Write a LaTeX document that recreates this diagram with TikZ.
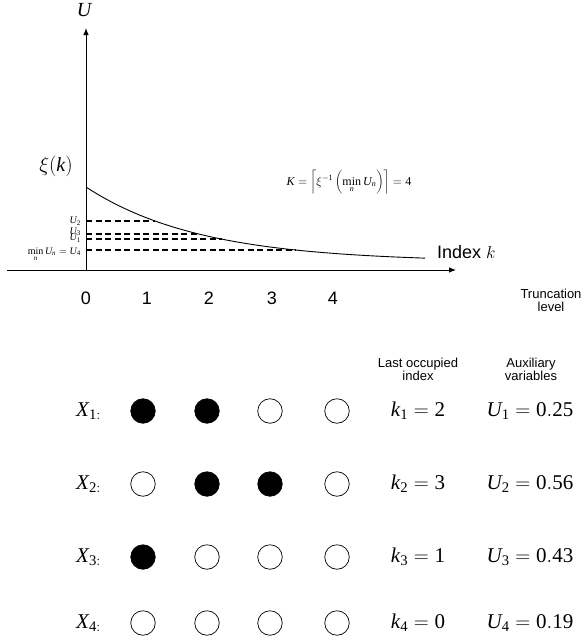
\documentclass[tikz,border=0pt]{standalone}
\usepackage{fontspec}
\setmainfont{Liberation Serif}
\setsansfont{Liberation Sans}
\usetikzlibrary{arrows.meta}
\newcommand{\fsz}[1]{\fontsize{#1}{#1}\selectfont}
\newcommand{\mi}[1]{\mathit{#1}}
\newcommand{\mr}[1]{\mathrm{#1}}
\begin{document}
\begin{tikzpicture}[x=1pt,y=-1pt,
  axisline/.style={line width=0.9pt,-{Latex[length=7pt,width=5.5pt]}},
  ulevel/.style={line width=1.5pt,dash pattern=on 6pt off 3.5pt},
  opendot/.style={circle,draw,line width=0.7pt,minimum size=24.5pt,inner sep=0pt},
  fulldot/.style={opendot,fill=black},
  ticklab/.style={font=\sffamily\fsz{18}},
  smalllab/.style={font=\fsz{10},inner sep=0pt},
  headlab/.style={font=\sffamily\fsz{13},align=center,inner sep=0pt},
  rowlab/.style={font=\fsz{21},inner sep=0pt}]
\useasboundingbox (0,0) rectangle (588,640);
% axes
\coordinate (o) at (86,270);
\coordinate (ytip) at (86,28);
\coordinate (xs) at (7,270);
\coordinate (xtip) at (456,270);
\draw[axisline] (o) -- (ytip);
\draw[axisline] (xs) -- (xtip);
\node[font=\fsz{20},inner sep=0pt] (ulab) at (84,10) {$\mi{U}$};
\node[font=\fsz{20},inner sep=0pt] (xilab) at (56,166) {$\xi(\mi{k})$};
% curve
\draw[line width=0.9pt] plot[domain=0:339,samples=90,smooth] ({86+\x},{262-75*exp(-0.00874*\x)});
% dashed levels
\coordinate (u2a) at (86,221); \coordinate (u2b) at (155,221);
\coordinate (u3a) at (86,234); \coordinate (u3b) at (200,234);
\coordinate (u1a) at (86,239); \coordinate (u1b) at (222,239);
\coordinate (u4a) at (86,250); \coordinate (u4b) at (296,250);
\draw[ulevel] (u2a) -- (u2b);
\draw[ulevel] (u3a) -- (u3b);
\draw[ulevel] (u1a) -- (u1b);
\draw[ulevel] (u4a) -- (u4b);
\node[smalllab,anchor=east] (l2) at (81,221) {$\mi{U}_{\mr{2}}$};
\node[smalllab,anchor=east] (l3) at (81,232) {$\mi{U}_{\mr{3}}$};
\node[smalllab,anchor=east] (l1) at (81,238) {$\mi{U}_{\mr{1}}$};
\node[smalllab,anchor=base east] (l4) at (81,254) {$\min\limits_{\mi{n}} \mi{U}_{\mi{n}} = \mi{U}_{\mr{4}}$};
% formula
\node[font=\fsz{12},inner sep=0pt] (kform) at (349,182) {$\mi{K}=\left\lceil \xi^{-\mr{1}}\left(\min\limits_{\mi{n}} \mi{U}_{\mi{n}}\right)\right\rceil = \mr{4}$};
\node[anchor=west,font=\sffamily\fsz{18},inner sep=0pt] (idx) at (437,252) {Index $k$};
% ticks
\node[ticklab] (t0) at (86,298) {0};
\node[ticklab] (t1) at (147,298) {1};
\node[ticklab] (t2) at (209,298) {2};
\node[ticklab] (t3) at (272,298) {3};
\node[ticklab] (t4) at (333,298) {4};
\node[headlab] (trunc) at (551,300) {Truncation\\level};
\node[headlab] (lastocc) at (418,369) {Last occupied\\index};
\node[headlab] (aux) at (531,369) {Auxiliary\\variables};
% rows
\foreach \r/\y/\a/\b/\c/\d/\kk/\uu in {1/411/1/1/0/0/2/0.25, 2/484/0/1/1/0/3/0.56, 3/557/1/0/0/0/1/0.43, 4/623/0/0/0/0/0/0.19}{
  \node[rowlab,anchor=east] (x\r) at (101,\y) {$\mi{X}_{\mr{\r:}}$};
  \foreach \col/\xx/\f in {1/143/\a, 2/207/\b, 3/270/\c, 4/337/\d}{
    \ifnum\f=1
      \node[fulldot] (c\r\col) at (\xx,\y) {};
    \else
      \node[opendot] (c\r\col) at (\xx,\y) {};
    \fi
  }
  \node[rowlab] (k\r) at (418,\y) {$\mi{k}_{\mr{\r}} = \mr{\kk}$};
  \node[rowlab] (v\r) at (530,\y) {$\mi{U}_{\mr{\r}} = \mr{\uu}$};
}
\end{tikzpicture}
\end{document}
